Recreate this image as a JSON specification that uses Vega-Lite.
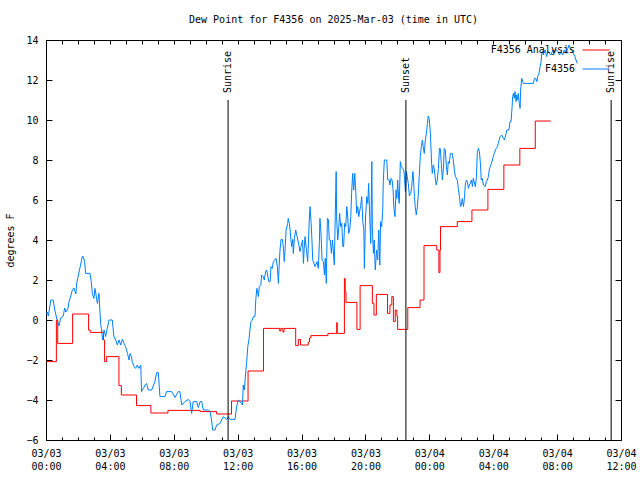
{
  "$schema": "https://vega.github.io/schema/vega-lite/v6.json",
  "width": 575,
  "height": 400,
  "autosize": {"type": "none"},
  "padding": {"left": 46, "top": 40, "right": 19, "bottom": 40},
  "background": "white",
  "title": {"text": "Dew Point for F4356 on 2025-Mar-03 (time in UTC)", "font": "DejaVu Sans Mono", "fontSize": 10, "fontWeight": "normal", "color": "black", "anchor": "middle", "offset": 10},
  "config": {
    "view": {"stroke": null},
    "axis": {"domainColor": "black", "tickColor": "black", "labelColor": "black", "titleColor": "black", "labelFont": "DejaVu Sans Mono", "titleFont": "DejaVu Sans Mono", "labelFontSize": 10, "titleFontSize": 10, "titleFontWeight": "normal", "grid": false, "domainWidth": 1, "tickWidth": 1, "labelOverlap": false, "labelFlush": false, "labelBound": false}
  },
  "datasets": {
    "analysis": [
      {"time": "2025-03-03T00:00Z", "dewpoint": -2.08},
      {"time": "2025-03-03T00:39Z", "dewpoint": 0.0},
      {"time": "2025-03-03T00:44Z", "dewpoint": -1.17},
      {"time": "2025-03-03T01:40Z", "dewpoint": 0.3},
      {"time": "2025-03-03T02:40Z", "dewpoint": -0.5},
      {"time": "2025-03-03T02:46Z", "dewpoint": -0.62},
      {"time": "2025-03-03T03:36Z", "dewpoint": -1.0},
      {"time": "2025-03-03T03:40Z", "dewpoint": -2.08},
      {"time": "2025-03-03T03:48Z", "dewpoint": -1.83},
      {"time": "2025-03-03T04:34Z", "dewpoint": -3.28},
      {"time": "2025-03-03T04:43Z", "dewpoint": -3.75},
      {"time": "2025-03-03T05:40Z", "dewpoint": -4.28},
      {"time": "2025-03-03T06:34Z", "dewpoint": -4.65},
      {"time": "2025-03-03T07:38Z", "dewpoint": -4.52},
      {"time": "2025-03-03T09:39Z", "dewpoint": -4.58},
      {"time": "2025-03-03T10:41Z", "dewpoint": -4.7},
      {"time": "2025-03-03T11:37Z", "dewpoint": -4.05},
      {"time": "2025-03-03T12:39Z", "dewpoint": -2.55},
      {"time": "2025-03-03T13:37Z", "dewpoint": -0.42},
      {"time": "2025-03-03T14:38Z", "dewpoint": -0.55},
      {"time": "2025-03-03T14:42Z", "dewpoint": -0.42},
      {"time": "2025-03-03T14:50Z", "dewpoint": -0.6},
      {"time": "2025-03-03T14:54Z", "dewpoint": -0.42},
      {"time": "2025-03-03T15:38Z", "dewpoint": -1.28},
      {"time": "2025-03-03T15:48Z", "dewpoint": -0.97},
      {"time": "2025-03-03T15:56Z", "dewpoint": -1.25},
      {"time": "2025-03-03T16:25Z", "dewpoint": -1.1},
      {"time": "2025-03-03T16:30Z", "dewpoint": -0.9},
      {"time": "2025-03-03T16:35Z", "dewpoint": -0.78},
      {"time": "2025-03-03T17:39Z", "dewpoint": -0.67},
      {"time": "2025-03-03T18:12Z", "dewpoint": -0.13},
      {"time": "2025-03-03T18:14Z", "dewpoint": -0.67},
      {"time": "2025-03-03T18:41Z", "dewpoint": 2.08},
      {"time": "2025-03-03T18:44Z", "dewpoint": 1.42},
      {"time": "2025-03-03T18:47Z", "dewpoint": 0.88},
      {"time": "2025-03-03T19:28Z", "dewpoint": -0.47},
      {"time": "2025-03-03T19:40Z", "dewpoint": 1.72},
      {"time": "2025-03-03T20:26Z", "dewpoint": 0.83},
      {"time": "2025-03-03T20:32Z", "dewpoint": 0.25},
      {"time": "2025-03-03T20:41Z", "dewpoint": 1.28},
      {"time": "2025-03-03T21:23Z", "dewpoint": 0.33},
      {"time": "2025-03-03T21:32Z", "dewpoint": 0.75},
      {"time": "2025-03-03T21:39Z", "dewpoint": 1.17},
      {"time": "2025-03-03T21:45Z", "dewpoint": -0.08},
      {"time": "2025-03-03T21:52Z", "dewpoint": 0.5},
      {"time": "2025-03-03T21:58Z", "dewpoint": 0.2},
      {"time": "2025-03-03T22:01Z", "dewpoint": -0.47},
      {"time": "2025-03-03T22:39Z", "dewpoint": 0.62},
      {"time": "2025-03-03T23:25Z", "dewpoint": 1.0},
      {"time": "2025-03-03T23:40Z", "dewpoint": 3.72},
      {"time": "2025-03-04T00:28Z", "dewpoint": 3.5},
      {"time": "2025-03-04T00:36Z", "dewpoint": 2.37},
      {"time": "2025-03-04T00:40Z", "dewpoint": 3.5},
      {"time": "2025-03-04T00:42Z", "dewpoint": 4.67},
      {"time": "2025-03-04T01:45Z", "dewpoint": 4.92},
      {"time": "2025-03-04T02:40Z", "dewpoint": 5.5},
      {"time": "2025-03-04T03:40Z", "dewpoint": 6.53},
      {"time": "2025-03-04T04:40Z", "dewpoint": 7.75},
      {"time": "2025-03-04T05:40Z", "dewpoint": 8.58},
      {"time": "2025-03-04T06:38Z", "dewpoint": 9.95},
      {"time": "2025-03-04T07:36Z", "dewpoint": 9.95}
    ],
    "station": [
      {"time": "2025-03-03T00:00Z", "dewpoint": 0.3},
      {"time": "2025-03-03T00:05Z", "dewpoint": 0.4},
      {"time": "2025-03-03T00:09Z", "dewpoint": 0.2},
      {"time": "2025-03-03T00:18Z", "dewpoint": 1.0},
      {"time": "2025-03-03T00:27Z", "dewpoint": 1.0},
      {"time": "2025-03-03T00:33Z", "dewpoint": 0.5},
      {"time": "2025-03-03T00:40Z", "dewpoint": 0.1},
      {"time": "2025-03-03T00:49Z", "dewpoint": -0.3},
      {"time": "2025-03-03T00:55Z", "dewpoint": 0.1},
      {"time": "2025-03-03T01:05Z", "dewpoint": 0.2},
      {"time": "2025-03-03T01:10Z", "dewpoint": 0.6},
      {"time": "2025-03-03T01:15Z", "dewpoint": 0.4},
      {"time": "2025-03-03T01:23Z", "dewpoint": 0.6},
      {"time": "2025-03-03T01:26Z", "dewpoint": 0.9},
      {"time": "2025-03-03T01:33Z", "dewpoint": 1.2},
      {"time": "2025-03-03T01:39Z", "dewpoint": 1.5},
      {"time": "2025-03-03T01:45Z", "dewpoint": 1.6},
      {"time": "2025-03-03T01:52Z", "dewpoint": 1.3},
      {"time": "2025-03-03T01:55Z", "dewpoint": 1.8},
      {"time": "2025-03-03T02:04Z", "dewpoint": 2.4},
      {"time": "2025-03-03T02:10Z", "dewpoint": 2.75},
      {"time": "2025-03-03T02:16Z", "dewpoint": 3.17},
      {"time": "2025-03-03T02:20Z", "dewpoint": 3.17},
      {"time": "2025-03-03T02:25Z", "dewpoint": 2.92},
      {"time": "2025-03-03T02:29Z", "dewpoint": 2.33},
      {"time": "2025-03-03T02:45Z", "dewpoint": 2.33},
      {"time": "2025-03-03T02:50Z", "dewpoint": 1.92},
      {"time": "2025-03-03T02:54Z", "dewpoint": 1.33},
      {"time": "2025-03-03T03:00Z", "dewpoint": 1.08},
      {"time": "2025-03-03T03:04Z", "dewpoint": 1.58},
      {"time": "2025-03-03T03:08Z", "dewpoint": 1.25},
      {"time": "2025-03-03T03:13Z", "dewpoint": 0.83},
      {"time": "2025-03-03T03:19Z", "dewpoint": 1.33},
      {"time": "2025-03-03T03:25Z", "dewpoint": -0.17},
      {"time": "2025-03-03T03:28Z", "dewpoint": -0.42},
      {"time": "2025-03-03T03:33Z", "dewpoint": -1.0},
      {"time": "2025-03-03T03:38Z", "dewpoint": -0.5},
      {"time": "2025-03-03T03:44Z", "dewpoint": -0.83},
      {"time": "2025-03-03T03:50Z", "dewpoint": -0.42},
      {"time": "2025-03-03T03:57Z", "dewpoint": 0.0},
      {"time": "2025-03-03T04:09Z", "dewpoint": 0.0},
      {"time": "2025-03-03T04:15Z", "dewpoint": -0.83},
      {"time": "2025-03-03T04:22Z", "dewpoint": -1.0},
      {"time": "2025-03-03T04:28Z", "dewpoint": -1.25},
      {"time": "2025-03-03T04:34Z", "dewpoint": -1.0},
      {"time": "2025-03-03T04:41Z", "dewpoint": -1.25},
      {"time": "2025-03-03T04:47Z", "dewpoint": -0.95},
      {"time": "2025-03-03T04:53Z", "dewpoint": -1.17},
      {"time": "2025-03-03T04:59Z", "dewpoint": -1.33},
      {"time": "2025-03-03T05:06Z", "dewpoint": -1.67},
      {"time": "2025-03-03T05:12Z", "dewpoint": -2.0},
      {"time": "2025-03-03T05:16Z", "dewpoint": -1.67},
      {"time": "2025-03-03T05:21Z", "dewpoint": -1.83},
      {"time": "2025-03-03T05:24Z", "dewpoint": -2.08},
      {"time": "2025-03-03T05:31Z", "dewpoint": -2.33},
      {"time": "2025-03-03T05:37Z", "dewpoint": -2.42},
      {"time": "2025-03-03T05:43Z", "dewpoint": -2.25},
      {"time": "2025-03-03T05:49Z", "dewpoint": -2.42},
      {"time": "2025-03-03T05:56Z", "dewpoint": -2.25},
      {"time": "2025-03-03T05:59Z", "dewpoint": -3.58},
      {"time": "2025-03-03T06:06Z", "dewpoint": -3.42},
      {"time": "2025-03-03T06:12Z", "dewpoint": -3.25},
      {"time": "2025-03-03T06:18Z", "dewpoint": -3.17},
      {"time": "2025-03-03T06:24Z", "dewpoint": -3.5},
      {"time": "2025-03-03T06:37Z", "dewpoint": -3.5},
      {"time": "2025-03-03T06:49Z", "dewpoint": -3.08},
      {"time": "2025-03-03T06:56Z", "dewpoint": -2.63},
      {"time": "2025-03-03T07:02Z", "dewpoint": -2.63},
      {"time": "2025-03-03T07:08Z", "dewpoint": -3.83},
      {"time": "2025-03-03T07:27Z", "dewpoint": -3.83},
      {"time": "2025-03-03T07:33Z", "dewpoint": -3.58},
      {"time": "2025-03-03T07:52Z", "dewpoint": -3.58},
      {"time": "2025-03-03T08:05Z", "dewpoint": -3.87},
      {"time": "2025-03-03T08:17Z", "dewpoint": -3.58},
      {"time": "2025-03-03T08:23Z", "dewpoint": -3.58},
      {"time": "2025-03-03T08:30Z", "dewpoint": -4.25},
      {"time": "2025-03-03T08:42Z", "dewpoint": -4.08},
      {"time": "2025-03-03T08:55Z", "dewpoint": -3.97},
      {"time": "2025-03-03T09:01Z", "dewpoint": -4.08},
      {"time": "2025-03-03T09:07Z", "dewpoint": -4.67},
      {"time": "2025-03-03T09:13Z", "dewpoint": -4.08},
      {"time": "2025-03-03T09:26Z", "dewpoint": -4.08},
      {"time": "2025-03-03T09:32Z", "dewpoint": -4.37},
      {"time": "2025-03-03T09:39Z", "dewpoint": -4.08},
      {"time": "2025-03-03T09:45Z", "dewpoint": -4.08},
      {"time": "2025-03-03T09:51Z", "dewpoint": -4.5},
      {"time": "2025-03-03T10:10Z", "dewpoint": -4.5},
      {"time": "2025-03-03T10:16Z", "dewpoint": -4.58},
      {"time": "2025-03-03T10:22Z", "dewpoint": -5.0},
      {"time": "2025-03-03T10:26Z", "dewpoint": -5.5},
      {"time": "2025-03-03T10:35Z", "dewpoint": -5.5},
      {"time": "2025-03-03T10:41Z", "dewpoint": -5.25},
      {"time": "2025-03-03T10:54Z", "dewpoint": -5.17},
      {"time": "2025-03-03T11:00Z", "dewpoint": -5.0},
      {"time": "2025-03-03T11:06Z", "dewpoint": -4.83},
      {"time": "2025-03-03T11:19Z", "dewpoint": -4.97},
      {"time": "2025-03-03T11:25Z", "dewpoint": -4.83},
      {"time": "2025-03-03T11:31Z", "dewpoint": -4.97},
      {"time": "2025-03-03T11:50Z", "dewpoint": -4.97},
      {"time": "2025-03-03T11:56Z", "dewpoint": -4.33},
      {"time": "2025-03-03T12:02Z", "dewpoint": -4.0},
      {"time": "2025-03-03T12:09Z", "dewpoint": -4.08},
      {"time": "2025-03-03T12:18Z", "dewpoint": -4.25},
      {"time": "2025-03-03T12:21Z", "dewpoint": -3.25},
      {"time": "2025-03-03T12:25Z", "dewpoint": -3.5},
      {"time": "2025-03-03T12:28Z", "dewpoint": -3.0},
      {"time": "2025-03-03T12:31Z", "dewpoint": -2.5},
      {"time": "2025-03-03T12:34Z", "dewpoint": -2.08},
      {"time": "2025-03-03T12:38Z", "dewpoint": -1.33},
      {"time": "2025-03-03T12:43Z", "dewpoint": -0.92},
      {"time": "2025-03-03T12:46Z", "dewpoint": -0.5},
      {"time": "2025-03-03T12:50Z", "dewpoint": -0.08},
      {"time": "2025-03-03T12:55Z", "dewpoint": 0.0},
      {"time": "2025-03-03T12:59Z", "dewpoint": 0.17},
      {"time": "2025-03-03T13:05Z", "dewpoint": 0.17},
      {"time": "2025-03-03T13:08Z", "dewpoint": 1.0},
      {"time": "2025-03-03T13:12Z", "dewpoint": 1.58},
      {"time": "2025-03-03T13:18Z", "dewpoint": 1.17},
      {"time": "2025-03-03T13:21Z", "dewpoint": 1.67},
      {"time": "2025-03-03T13:27Z", "dewpoint": 1.75},
      {"time": "2025-03-03T13:30Z", "dewpoint": 2.25},
      {"time": "2025-03-03T13:36Z", "dewpoint": 2.17},
      {"time": "2025-03-03T13:40Z", "dewpoint": 2.0},
      {"time": "2025-03-03T13:45Z", "dewpoint": 2.42},
      {"time": "2025-03-03T13:49Z", "dewpoint": 2.5},
      {"time": "2025-03-03T13:57Z", "dewpoint": 1.92},
      {"time": "2025-03-03T14:02Z", "dewpoint": 1.92},
      {"time": "2025-03-03T14:05Z", "dewpoint": 2.67},
      {"time": "2025-03-03T14:10Z", "dewpoint": 2.58},
      {"time": "2025-03-03T14:14Z", "dewpoint": 2.92},
      {"time": "2025-03-03T14:24Z", "dewpoint": 3.08},
      {"time": "2025-03-03T14:29Z", "dewpoint": 2.67},
      {"time": "2025-03-03T14:33Z", "dewpoint": 1.83},
      {"time": "2025-03-03T14:36Z", "dewpoint": 2.75},
      {"time": "2025-03-03T14:39Z", "dewpoint": 3.5},
      {"time": "2025-03-03T14:43Z", "dewpoint": 4.03},
      {"time": "2025-03-03T14:48Z", "dewpoint": 4.03},
      {"time": "2025-03-03T14:52Z", "dewpoint": 3.58},
      {"time": "2025-03-03T14:55Z", "dewpoint": 2.92},
      {"time": "2025-03-03T14:58Z", "dewpoint": 3.5},
      {"time": "2025-03-03T15:02Z", "dewpoint": 4.5},
      {"time": "2025-03-03T15:08Z", "dewpoint": 4.83},
      {"time": "2025-03-03T15:10Z", "dewpoint": 5.08},
      {"time": "2025-03-03T15:14Z", "dewpoint": 4.83},
      {"time": "2025-03-03T15:17Z", "dewpoint": 4.5},
      {"time": "2025-03-03T15:20Z", "dewpoint": 4.0},
      {"time": "2025-03-03T15:23Z", "dewpoint": 3.67},
      {"time": "2025-03-03T15:27Z", "dewpoint": 4.03},
      {"time": "2025-03-03T15:29Z", "dewpoint": 3.33},
      {"time": "2025-03-03T15:33Z", "dewpoint": 4.08},
      {"time": "2025-03-03T15:38Z", "dewpoint": 4.5},
      {"time": "2025-03-03T15:46Z", "dewpoint": 4.0},
      {"time": "2025-03-03T15:50Z", "dewpoint": 3.75},
      {"time": "2025-03-03T15:54Z", "dewpoint": 3.42},
      {"time": "2025-03-03T15:58Z", "dewpoint": 3.67},
      {"time": "2025-03-03T16:04Z", "dewpoint": 4.0},
      {"time": "2025-03-03T16:07Z", "dewpoint": 2.83},
      {"time": "2025-03-03T16:10Z", "dewpoint": 3.58},
      {"time": "2025-03-03T16:13Z", "dewpoint": 4.17},
      {"time": "2025-03-03T16:19Z", "dewpoint": 3.42},
      {"time": "2025-03-03T16:23Z", "dewpoint": 2.92},
      {"time": "2025-03-03T16:25Z", "dewpoint": 3.58},
      {"time": "2025-03-03T16:29Z", "dewpoint": 5.0},
      {"time": "2025-03-03T16:32Z", "dewpoint": 5.67},
      {"time": "2025-03-03T16:36Z", "dewpoint": 4.83},
      {"time": "2025-03-03T16:39Z", "dewpoint": 4.0},
      {"time": "2025-03-03T16:42Z", "dewpoint": 3.0},
      {"time": "2025-03-03T16:51Z", "dewpoint": 2.67},
      {"time": "2025-03-03T16:58Z", "dewpoint": 2.92},
      {"time": "2025-03-03T17:03Z", "dewpoint": 2.58},
      {"time": "2025-03-03T17:07Z", "dewpoint": 3.92},
      {"time": "2025-03-03T17:09Z", "dewpoint": 5.08},
      {"time": "2025-03-03T17:13Z", "dewpoint": 4.33},
      {"time": "2025-03-03T17:17Z", "dewpoint": 3.0},
      {"time": "2025-03-03T17:22Z", "dewpoint": 2.92},
      {"time": "2025-03-03T17:26Z", "dewpoint": 2.25},
      {"time": "2025-03-03T17:29Z", "dewpoint": 3.08},
      {"time": "2025-03-03T17:33Z", "dewpoint": 1.83},
      {"time": "2025-03-03T17:37Z", "dewpoint": 5.08},
      {"time": "2025-03-03T17:41Z", "dewpoint": 5.0},
      {"time": "2025-03-03T17:44Z", "dewpoint": 4.0},
      {"time": "2025-03-03T17:48Z", "dewpoint": 4.0},
      {"time": "2025-03-03T17:52Z", "dewpoint": 3.33},
      {"time": "2025-03-03T17:56Z", "dewpoint": 4.0},
      {"time": "2025-03-03T17:59Z", "dewpoint": 3.5},
      {"time": "2025-03-03T18:03Z", "dewpoint": 2.75},
      {"time": "2025-03-03T18:07Z", "dewpoint": 5.5},
      {"time": "2025-03-03T18:10Z", "dewpoint": 7.42},
      {"time": "2025-03-03T18:12Z", "dewpoint": 5.0},
      {"time": "2025-03-03T18:16Z", "dewpoint": 4.0},
      {"time": "2025-03-03T18:20Z", "dewpoint": 4.67},
      {"time": "2025-03-03T18:23Z", "dewpoint": 5.33},
      {"time": "2025-03-03T18:27Z", "dewpoint": 4.67},
      {"time": "2025-03-03T18:31Z", "dewpoint": 4.83},
      {"time": "2025-03-03T18:35Z", "dewpoint": 3.67},
      {"time": "2025-03-03T18:38Z", "dewpoint": 3.67},
      {"time": "2025-03-03T18:42Z", "dewpoint": 4.83},
      {"time": "2025-03-03T18:46Z", "dewpoint": 4.67},
      {"time": "2025-03-03T18:50Z", "dewpoint": 5.67},
      {"time": "2025-03-03T18:53Z", "dewpoint": 5.25},
      {"time": "2025-03-03T18:57Z", "dewpoint": 4.33},
      {"time": "2025-03-03T19:01Z", "dewpoint": 4.5},
      {"time": "2025-03-03T19:05Z", "dewpoint": 5.17},
      {"time": "2025-03-03T19:08Z", "dewpoint": 6.33},
      {"time": "2025-03-03T19:12Z", "dewpoint": 7.33},
      {"time": "2025-03-03T19:16Z", "dewpoint": 6.5},
      {"time": "2025-03-03T19:20Z", "dewpoint": 7.33},
      {"time": "2025-03-03T19:24Z", "dewpoint": 6.33},
      {"time": "2025-03-03T19:27Z", "dewpoint": 5.33},
      {"time": "2025-03-03T19:31Z", "dewpoint": 5.67},
      {"time": "2025-03-03T19:35Z", "dewpoint": 5.17},
      {"time": "2025-03-03T19:39Z", "dewpoint": 5.5},
      {"time": "2025-03-03T19:42Z", "dewpoint": 5.67},
      {"time": "2025-03-03T19:46Z", "dewpoint": 6.17},
      {"time": "2025-03-03T19:50Z", "dewpoint": 4.92},
      {"time": "2025-03-03T19:54Z", "dewpoint": 4.5},
      {"time": "2025-03-03T19:56Z", "dewpoint": 2.58},
      {"time": "2025-03-03T20:00Z", "dewpoint": 5.0},
      {"time": "2025-03-03T20:05Z", "dewpoint": 6.17},
      {"time": "2025-03-03T20:09Z", "dewpoint": 5.83},
      {"time": "2025-03-03T20:12Z", "dewpoint": 6.83},
      {"time": "2025-03-03T20:16Z", "dewpoint": 5.17},
      {"time": "2025-03-03T20:20Z", "dewpoint": 3.83},
      {"time": "2025-03-03T20:24Z", "dewpoint": 7.92},
      {"time": "2025-03-03T20:26Z", "dewpoint": 4.58},
      {"time": "2025-03-03T20:30Z", "dewpoint": 3.33},
      {"time": "2025-03-03T20:33Z", "dewpoint": 4.0},
      {"time": "2025-03-03T20:37Z", "dewpoint": 2.5},
      {"time": "2025-03-03T20:42Z", "dewpoint": 3.5},
      {"time": "2025-03-03T20:46Z", "dewpoint": 3.0},
      {"time": "2025-03-03T20:50Z", "dewpoint": 4.5},
      {"time": "2025-03-03T20:54Z", "dewpoint": 2.75},
      {"time": "2025-03-03T20:57Z", "dewpoint": 4.92},
      {"time": "2025-03-03T21:01Z", "dewpoint": 4.67},
      {"time": "2025-03-03T21:05Z", "dewpoint": 5.5},
      {"time": "2025-03-03T21:07Z", "dewpoint": 6.92},
      {"time": "2025-03-03T21:11Z", "dewpoint": 8.0},
      {"time": "2025-03-03T21:20Z", "dewpoint": 8.0},
      {"time": "2025-03-03T21:24Z", "dewpoint": 7.0},
      {"time": "2025-03-03T21:29Z", "dewpoint": 7.0},
      {"time": "2025-03-03T21:32Z", "dewpoint": 6.75},
      {"time": "2025-03-03T21:36Z", "dewpoint": 7.08},
      {"time": "2025-03-03T21:40Z", "dewpoint": 7.0},
      {"time": "2025-03-03T21:44Z", "dewpoint": 6.5},
      {"time": "2025-03-03T21:47Z", "dewpoint": 5.58},
      {"time": "2025-03-03T21:51Z", "dewpoint": 5.17},
      {"time": "2025-03-03T21:55Z", "dewpoint": 6.5},
      {"time": "2025-03-03T21:58Z", "dewpoint": 6.08},
      {"time": "2025-03-03T22:01Z", "dewpoint": 7.0},
      {"time": "2025-03-03T22:05Z", "dewpoint": 6.0},
      {"time": "2025-03-03T22:07Z", "dewpoint": 5.83},
      {"time": "2025-03-03T22:11Z", "dewpoint": 7.92},
      {"time": "2025-03-03T22:15Z", "dewpoint": 7.67},
      {"time": "2025-03-03T22:20Z", "dewpoint": 7.58},
      {"time": "2025-03-03T22:24Z", "dewpoint": 7.5},
      {"time": "2025-03-03T22:26Z", "dewpoint": 7.25},
      {"time": "2025-03-03T22:30Z", "dewpoint": 6.42},
      {"time": "2025-03-03T22:34Z", "dewpoint": 7.42},
      {"time": "2025-03-03T22:37Z", "dewpoint": 7.17},
      {"time": "2025-03-03T22:41Z", "dewpoint": 6.83},
      {"time": "2025-03-03T22:45Z", "dewpoint": 6.2},
      {"time": "2025-03-03T22:50Z", "dewpoint": 6.33},
      {"time": "2025-03-03T22:54Z", "dewpoint": 6.67},
      {"time": "2025-03-03T22:58Z", "dewpoint": 7.42},
      {"time": "2025-03-03T23:00Z", "dewpoint": 7.17},
      {"time": "2025-03-03T23:04Z", "dewpoint": 6.17},
      {"time": "2025-03-03T23:07Z", "dewpoint": 5.67},
      {"time": "2025-03-03T23:11Z", "dewpoint": 5.25},
      {"time": "2025-03-03T23:15Z", "dewpoint": 5.67},
      {"time": "2025-03-03T23:19Z", "dewpoint": 6.33},
      {"time": "2025-03-03T23:22Z", "dewpoint": 7.17},
      {"time": "2025-03-03T23:26Z", "dewpoint": 8.17},
      {"time": "2025-03-03T23:30Z", "dewpoint": 8.67},
      {"time": "2025-03-03T23:34Z", "dewpoint": 9.0},
      {"time": "2025-03-03T23:37Z", "dewpoint": 8.67},
      {"time": "2025-03-03T23:41Z", "dewpoint": 8.33},
      {"time": "2025-03-03T23:45Z", "dewpoint": 9.0},
      {"time": "2025-03-03T23:49Z", "dewpoint": 9.33},
      {"time": "2025-03-03T23:53Z", "dewpoint": 9.83},
      {"time": "2025-03-03T23:56Z", "dewpoint": 10.2},
      {"time": "2025-03-04T00:00Z", "dewpoint": 10.0},
      {"time": "2025-03-04T00:04Z", "dewpoint": 9.33},
      {"time": "2025-03-04T00:08Z", "dewpoint": 8.0},
      {"time": "2025-03-04T00:11Z", "dewpoint": 7.33},
      {"time": "2025-03-04T00:15Z", "dewpoint": 7.75},
      {"time": "2025-03-04T00:19Z", "dewpoint": 7.5},
      {"time": "2025-03-04T00:23Z", "dewpoint": 7.0},
      {"time": "2025-03-04T00:26Z", "dewpoint": 6.75},
      {"time": "2025-03-04T00:30Z", "dewpoint": 7.0},
      {"time": "2025-03-04T00:34Z", "dewpoint": 7.58},
      {"time": "2025-03-04T00:38Z", "dewpoint": 8.58},
      {"time": "2025-03-04T00:41Z", "dewpoint": 8.58},
      {"time": "2025-03-04T00:45Z", "dewpoint": 7.83},
      {"time": "2025-03-04T00:49Z", "dewpoint": 7.0},
      {"time": "2025-03-04T00:53Z", "dewpoint": 7.58},
      {"time": "2025-03-04T00:56Z", "dewpoint": 8.58},
      {"time": "2025-03-04T01:00Z", "dewpoint": 8.5},
      {"time": "2025-03-04T01:04Z", "dewpoint": 7.67},
      {"time": "2025-03-04T01:08Z", "dewpoint": 7.25},
      {"time": "2025-03-04T01:11Z", "dewpoint": 7.92},
      {"time": "2025-03-04T01:15Z", "dewpoint": 7.83},
      {"time": "2025-03-04T01:19Z", "dewpoint": 8.33},
      {"time": "2025-03-04T01:26Z", "dewpoint": 8.33},
      {"time": "2025-03-04T01:30Z", "dewpoint": 8.0},
      {"time": "2025-03-04T01:34Z", "dewpoint": 7.5},
      {"time": "2025-03-04T01:38Z", "dewpoint": 7.17},
      {"time": "2025-03-04T01:45Z", "dewpoint": 7.0},
      {"time": "2025-03-04T01:49Z", "dewpoint": 6.58},
      {"time": "2025-03-04T01:53Z", "dewpoint": 6.17},
      {"time": "2025-03-04T01:57Z", "dewpoint": 5.67},
      {"time": "2025-03-04T02:00Z", "dewpoint": 5.75},
      {"time": "2025-03-04T02:04Z", "dewpoint": 6.08},
      {"time": "2025-03-04T02:08Z", "dewpoint": 5.67},
      {"time": "2025-03-04T02:12Z", "dewpoint": 6.08},
      {"time": "2025-03-04T02:15Z", "dewpoint": 6.75},
      {"time": "2025-03-04T02:19Z", "dewpoint": 7.0},
      {"time": "2025-03-04T02:23Z", "dewpoint": 6.92},
      {"time": "2025-03-04T02:27Z", "dewpoint": 6.58},
      {"time": "2025-03-04T02:30Z", "dewpoint": 6.75},
      {"time": "2025-03-04T02:34Z", "dewpoint": 6.83},
      {"time": "2025-03-04T02:38Z", "dewpoint": 7.0},
      {"time": "2025-03-04T02:42Z", "dewpoint": 6.67},
      {"time": "2025-03-04T02:45Z", "dewpoint": 7.08},
      {"time": "2025-03-04T02:53Z", "dewpoint": 6.67},
      {"time": "2025-03-04T02:57Z", "dewpoint": 7.17},
      {"time": "2025-03-04T03:00Z", "dewpoint": 8.33},
      {"time": "2025-03-04T03:04Z", "dewpoint": 8.58},
      {"time": "2025-03-04T03:08Z", "dewpoint": 8.42},
      {"time": "2025-03-04T03:12Z", "dewpoint": 7.83},
      {"time": "2025-03-04T03:15Z", "dewpoint": 7.0},
      {"time": "2025-03-04T03:19Z", "dewpoint": 7.08},
      {"time": "2025-03-04T03:23Z", "dewpoint": 6.75},
      {"time": "2025-03-04T03:30Z", "dewpoint": 6.67},
      {"time": "2025-03-04T03:34Z", "dewpoint": 6.92},
      {"time": "2025-03-04T03:38Z", "dewpoint": 7.0},
      {"time": "2025-03-04T03:42Z", "dewpoint": 7.17},
      {"time": "2025-03-04T03:45Z", "dewpoint": 7.5},
      {"time": "2025-03-04T03:49Z", "dewpoint": 7.67},
      {"time": "2025-03-04T03:53Z", "dewpoint": 7.83},
      {"time": "2025-03-04T03:57Z", "dewpoint": 8.0},
      {"time": "2025-03-04T04:00Z", "dewpoint": 8.17},
      {"time": "2025-03-04T04:04Z", "dewpoint": 8.33},
      {"time": "2025-03-04T04:08Z", "dewpoint": 8.5},
      {"time": "2025-03-04T04:12Z", "dewpoint": 8.58},
      {"time": "2025-03-04T04:16Z", "dewpoint": 8.67},
      {"time": "2025-03-04T04:19Z", "dewpoint": 8.83},
      {"time": "2025-03-04T04:26Z", "dewpoint": 9.17},
      {"time": "2025-03-04T04:32Z", "dewpoint": 9.25},
      {"time": "2025-03-04T04:38Z", "dewpoint": 9.08},
      {"time": "2025-03-04T04:42Z", "dewpoint": 9.0},
      {"time": "2025-03-04T04:47Z", "dewpoint": 9.25},
      {"time": "2025-03-04T04:51Z", "dewpoint": 9.5},
      {"time": "2025-03-04T04:59Z", "dewpoint": 9.5},
      {"time": "2025-03-04T05:03Z", "dewpoint": 9.92},
      {"time": "2025-03-04T05:07Z", "dewpoint": 9.92},
      {"time": "2025-03-04T05:11Z", "dewpoint": 10.67},
      {"time": "2025-03-04T05:13Z", "dewpoint": 11.17},
      {"time": "2025-03-04T05:16Z", "dewpoint": 11.33},
      {"time": "2025-03-04T05:19Z", "dewpoint": 11.08},
      {"time": "2025-03-04T05:22Z", "dewpoint": 11.42},
      {"time": "2025-03-04T05:26Z", "dewpoint": 10.92},
      {"time": "2025-03-04T05:28Z", "dewpoint": 11.25},
      {"time": "2025-03-04T05:32Z", "dewpoint": 11.0},
      {"time": "2025-03-04T05:34Z", "dewpoint": 11.33},
      {"time": "2025-03-04T05:38Z", "dewpoint": 10.83},
      {"time": "2025-03-04T05:41Z", "dewpoint": 10.58},
      {"time": "2025-03-04T05:43Z", "dewpoint": 11.5},
      {"time": "2025-03-04T05:47Z", "dewpoint": 12.08},
      {"time": "2025-03-04T05:51Z", "dewpoint": 11.92},
      {"time": "2025-03-04T05:53Z", "dewpoint": 11.83},
      {"time": "2025-03-04T06:31Z", "dewpoint": 11.83},
      {"time": "2025-03-04T06:35Z", "dewpoint": 12.08},
      {"time": "2025-03-04T06:40Z", "dewpoint": 12.08},
      {"time": "2025-03-04T06:44Z", "dewpoint": 11.92},
      {"time": "2025-03-04T06:47Z", "dewpoint": 12.17},
      {"time": "2025-03-04T06:52Z", "dewpoint": 12.33},
      {"time": "2025-03-04T06:56Z", "dewpoint": 12.67},
      {"time": "2025-03-04T07:00Z", "dewpoint": 12.92},
      {"time": "2025-03-04T07:02Z", "dewpoint": 13.33},
      {"time": "2025-03-04T07:06Z", "dewpoint": 13.42},
      {"time": "2025-03-04T07:08Z", "dewpoint": 13.25},
      {"time": "2025-03-04T07:15Z", "dewpoint": 13.5},
      {"time": "2025-03-04T07:21Z", "dewpoint": 13.17},
      {"time": "2025-03-04T07:25Z", "dewpoint": 13.42},
      {"time": "2025-03-04T07:31Z", "dewpoint": 13.33},
      {"time": "2025-03-04T07:37Z", "dewpoint": 13.25},
      {"time": "2025-03-04T07:44Z", "dewpoint": 13.5},
      {"time": "2025-03-04T07:50Z", "dewpoint": 13.33},
      {"time": "2025-03-04T07:56Z", "dewpoint": 13.53},
      {"time": "2025-03-04T08:03Z", "dewpoint": 13.42},
      {"time": "2025-03-04T08:09Z", "dewpoint": 13.25},
      {"time": "2025-03-04T08:15Z", "dewpoint": 13.42},
      {"time": "2025-03-04T08:21Z", "dewpoint": 13.25},
      {"time": "2025-03-04T08:27Z", "dewpoint": 13.5},
      {"time": "2025-03-04T08:34Z", "dewpoint": 13.33},
      {"time": "2025-03-04T08:40Z", "dewpoint": 13.58},
      {"time": "2025-03-04T08:45Z", "dewpoint": 13.75},
      {"time": "2025-03-04T08:49Z", "dewpoint": 13.58},
      {"time": "2025-03-04T08:55Z", "dewpoint": 13.5},
      {"time": "2025-03-04T09:01Z", "dewpoint": 13.33},
      {"time": "2025-03-04T09:07Z", "dewpoint": 13.17},
      {"time": "2025-03-04T09:11Z", "dewpoint": 13.0},
      {"time": "2025-03-04T09:16Z", "dewpoint": 12.83}
    ],
    "events": [
      {"time": "2025-03-03T11:24Z", "event": "Sunrise"},
      {"time": "2025-03-03T22:32Z", "event": "Sunset"},
      {"time": "2025-03-04T11:23Z", "event": "Sunrise"}
    ]
  },
  "layer": [
    {
      "data": {"name": "analysis"},
      "mark": {"type": "line", "interpolate": "step-after", "strokeWidth": 1},
      "encoding": {
        "x": {"field": "time", "type": "temporal",
          "scale": {"type": "utc", "nice": false, "domain": [{"year": 2025, "month": 3, "date": 3, "hours": 0, "utc": true}, {"year": 2025, "month": 3, "date": 4, "hours": 12, "utc": true}]},
          "axis": {"orient": "top", "labels": false, "title": null, "tickSize": -4,
            "values": [1740960000000, 1740963600000, 1740967200000, 1740970800000, 1740974400000, 1740978000000, 1740981600000, 1740985200000, 1740988800000, 1740992400000, 1740996000000, 1740999600000, 1741003200000, 1741006800000, 1741010400000, 1741014000000, 1741017600000, 1741021200000, 1741024800000, 1741028400000, 1741032000000, 1741035600000, 1741039200000, 1741042800000, 1741046400000, 1741050000000, 1741053600000, 1741057200000, 1741060800000, 1741064400000, 1741068000000, 1741071600000, 1741075200000, 1741078800000, 1741082400000, 1741086000000, 1741089600000]}},
        "y": {"field": "dewpoint", "type": "quantitative",
          "scale": {"domain": [-6, 14], "nice": false, "zero": false},
          "axis": {"orient": "right", "labels": false, "title": null, "values": [-6, -4, -2, 0, 2, 4, 6, 8, 10, 12, 14], "tickSize": -6}},
        "color": {"datum": "F4356 Analysis", "type": "nominal",
          "scale": {"domain": ["F4356 Analysis", "F4356"], "range": ["#ff0000", "#0080ff"]},
          "legend": {"orient": "none", "legendX": 536, "legendY": -4, "title": null, "symbolType": "stroke", "symbolSize": 729, "symbolStrokeWidth": 1, "labelFont": "DejaVu Sans Mono", "labelFontSize": 10, "labelColor": "black", "labelAlign": "right", "labelOffset": -35, "rowPadding": -21}}
      }
    },
    {
      "data": {"name": "station"},
      "mark": {"type": "line", "strokeWidth": 1},
      "encoding": {
        "x": {"field": "time", "type": "temporal",
          "axis": {"orient": "bottom", "title": null, "tickSize": -6, "format": "%m/%d", "labelPadding": 14, "labelBaseline": "top",
            "values": [1740960000000, 1740974400000, 1740988800000, 1741003200000, 1741017600000, 1741032000000, 1741046400000, 1741060800000, 1741075200000, 1741089600000]}},
        "y": {"field": "dewpoint", "type": "quantitative",
          "axis": {"orient": "left", "title": "degrees F", "values": [-6, -4, -2, 0, 2, 4, 6, 8, 10, 12, 14], "tickSize": -6, "labelPadding": 14, "titlePadding": 10}},
        "color": {"datum": "F4356", "type": "nominal"}
      }
    },
    {
      "data": {"name": "events"},
      "mark": {"type": "rule", "color": "black", "strokeWidth": 1},
      "encoding": {
        "x": {"field": "time", "type": "temporal",
          "axis": {"orient": "bottom", "labels": false, "title": null, "domain": false, "tickSize": -3,
            "values": [1740960000000, 1740963600000, 1740967200000, 1740970800000, 1740974400000, 1740978000000, 1740981600000, 1740985200000, 1740988800000, 1740992400000, 1740996000000, 1740999600000, 1741003200000, 1741006800000, 1741010400000, 1741014000000, 1741017600000, 1741021200000, 1741024800000, 1741028400000, 1741032000000, 1741035600000, 1741039200000, 1741042800000, 1741046400000, 1741050000000, 1741053600000, 1741057200000, 1741060800000, 1741064400000, 1741068000000, 1741071600000, 1741075200000, 1741078800000, 1741082400000, 1741086000000, 1741089600000]}},
        "y": {"datum": 11, "type": "quantitative", "axis": null},
        "y2": {"datum": -6}
      }
    },
    {
      "data": {"name": "events"},
      "mark": {"type": "text", "angle": 270, "align": "left", "baseline": "middle", "font": "DejaVu Sans Mono", "fontSize": 10, "color": "black"},
      "encoding": {
        "x": {"field": "time", "type": "temporal",
          "axis": {"orient": "bottom", "title": null, "domain": false, "tickSize": 0, "format": "%H:%M", "labelPadding": 21, "labelBaseline": "top",
            "values": [1740960000000, 1740974400000, 1740988800000, 1741003200000, 1741017600000, 1741032000000, 1741046400000, 1741060800000, 1741075200000, 1741089600000]}},
        "y": {"datum": 11.35, "type": "quantitative", "axis": null},
        "text": {"field": "event"}
      }
    }
  ],
  "resolve": {"axis": {"x": "independent", "y": "independent"}}
}
